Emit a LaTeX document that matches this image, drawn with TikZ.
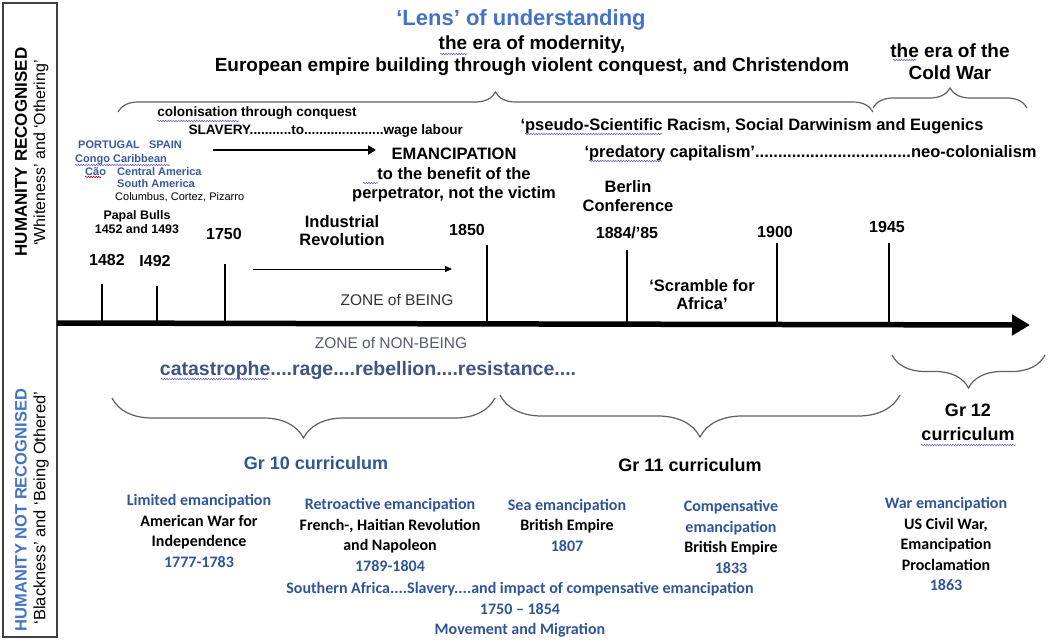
\documentclass[tikz,border=0pt]{standalone}
\usepackage{fontspec}
\setmainfont{Liberation Sans}
\newfontfamily\calib{Carlito}
\usepackage{tikz}
\usetikzlibrary{arrows.meta,decorations.pathreplacing,decorations.pathmorphing,positioning}
\definecolor{lensblue}{RGB}{68,114,196}
\definecolor{deepblue}{RGB}{47,85,151}
\definecolor{iberblue}{RGB}{58,88,158}
\definecolor{slateblue}{RGB}{62,84,130}
\definecolor{zonegray}{RGB}{84,92,110}
\definecolor{bracegray}{RGB}{95,95,95}
\definecolor{spellblue}{RGB}{110,100,220}

\begin{document}
\begin{tikzpicture}[x=1pt,y=-1pt,
	lens/.style={font=\fontsize{22}{26}\selectfont\bfseries,text=lensblue},
	era/.style={font=\fontsize{19}{22}\selectfont\bfseries,align=center},
	lab/.style={font=\fontsize{16.5}{19}\selectfont\bfseries,align=center},
	yr/.style={font=\fontsize{16}{19}\selectfont\bfseries},
	mid/.style={font=\fontsize{13.6}{16}\selectfont\bfseries},
	iber/.style={font=\fontsize{11}{13}\selectfont\bfseries,text=iberblue,anchor=west,inner sep=0pt},
	zone/.style={font=\fontsize{15.5}{18}\selectfont},
	gr/.style={font=\fontsize{18}{24}\selectfont\bfseries,align=center},
	cal/.style={font=\calib\fontsize{16}{20.5}\selectfont\bfseries,align=center},
	brc/.style={decorate,decoration={brace,amplitude=#1},draw=bracegray,line width=1.2pt},
	tick/.style={line width=2.6pt},
	spell/.style={decorate,decoration={snake,amplitude=.7pt,segment length=2.6pt},draw=#1,line width=.6pt},
	spell/.default=spellblue,
	side/.style={rotate=90,align=center}]
	\useasboundingbox (0,0) rectangle (1052,641);
	
	% side panel
	\draw[line width=1.1pt,black!75] (3,3) rectangle (57,637);
	\node[side,font=\fontsize{17}{20}\selectfont\bfseries] (hr) at (21,152) {HUMANITY RECOGNISED};
	\node[side,font=\fontsize{16}{18}\selectfont] (wo) at (41,153) {‘Whiteness’ and ‘Othering’};
	\node[side,font=\fontsize{16.5}{18}\selectfont\bfseries,text=lensblue] (hnr) at (21,510) {HUMANITY NOT RECOGNISED};
	\node[side,font=\fontsize{16.5}{18}\selectfont] (bo) at (41,508) {‘Blackness’ and ‘Being Othered’};
	
	% lens
	\node[lens] (title) at (521,20) {‘Lens’ of understanding};
	\node[era] (modern) at (532,56) {the era of modernity,\\European empire building through violent conquest, and Christendom};
	\node[era] (cold) at (950,62) {the era of the\\Cold War};
	\draw[brc=20pt] (118,112) -- (873,112);
	\draw[brc=20pt] (873,108) -- (1027,108);
	
	% conquest and slavery
	\node[mid] (colon) at (257,113) {colonisation through conquest};
	\node[mid,anchor=west] (slave) at (185,131) {SLAVERY...........to.....................wage labour};
	\coordinate (sl1) at (213,150);
	\coordinate (sl2) at (376,150);
	\draw[line width=2.4pt,-{Triangle[length=8pt,width=9pt]}] (sl1) -- (sl2);
	\node[iber] (pg) at (78,145) {PORTUGAL\ \ \ SPAIN};
	\node[iber] (congo) at (75,160) {Congo Caribbean};
	\node[iber] (cao) at (85,172) {Cão};
	\node[iber] (cam) at (117,172) {Central America};
	\node[iber] (sam) at (117,184) {South America};
	\node[font=\fontsize{11}{13}\selectfont,anchor=west,inner sep=0pt] (cc) at (115,197) {Columbus, Cortez, Pizarro};
	\node[font=\fontsize{12.4}{14}\selectfont\bfseries,align=center] (bulls) at (137,222) {Papal Bulls\\1452 and 1493};
	
	\node[lab,font=\fontsize{16.5}{19.5}\selectfont\bfseries] (eman) at (454,175) {EMANCIPATION\\to the benefit of the\\perpetrator, not the victim};
	\node[lab,font=\fontsize{16.5}{18.5}\selectfont\bfseries] (berlin) at (628,196) {Berlin\\Conference};
	\node[lab,anchor=west] (pseudo) at (517,126) {‘pseudo-Scientific Racism, Social Darwinism and Eugenics};
	\node[lab,anchor=west] (pred) at (581,153) {‘predatory capitalism’..................................neo-colonialism};
	\node[lab,font=\fontsize{16.5}{18}\selectfont\bfseries] (indus) at (342,231) {Industrial\\Revolution};
	\coordinate (ir1) at (253,269);
	\coordinate (ir2) at (452,269);
	\draw[line width=1pt,-{Triangle[length=7pt,width=6pt]}] (ir1) -- (ir2);
	\node[zone,text=black!80] (being) at (397,300) {ZONE of BEING};
	\node[lab,font=\fontsize{16.5}{18}\selectfont\bfseries] (scramble) at (702,295) {‘Scramble for\\Africa’};
	
	% spelling marks
	\draw[spell] (157,121) -- (239,121);
	\draw[spell] (75,165) -- (170,165);
	\draw[spell=red!75!black] (85,177) -- (101,177);
	\draw[spell] (363,183) -- (378,183);
	\draw[spell] (440,54) -- (467,54);
	\draw[spell] (893,60) -- (916,60);
	\draw[spell] (525,134) -- (662,134);
	\draw[spell] (589,161) -- (662,161);
	\draw[spell] (161,379) -- (268,379);
	\draw[spell] (921,445) -- (1016,445);
	
	% time line
	\coordinate (ax1) at (57,323);
	\coordinate (ax2) at (1030,325);
	\draw[line width=5.5pt,-{Triangle[length=18pt,width=20pt]}] (ax1) -- (ax2);
	\foreach \x/\t in {102/284,157/286,225/264,487/245,627/250,777/243,889/243}
	\draw[tick] (\x,324) -- (\x,\t);
	\foreach \x/\y/\lab in {107/260/1482,155/261/I492,224/234/1750,467/230/1850,627/233/{1884/’85},775/232/1900,887/227/1945}
	\node[yr] at (\x,\y) {\lab};
	
	% below the line
	\node[zone,text=zonegray] (nonbeing) at (391,343) {ZONE of NON-BEING};
	\node[font=\fontsize{19.5}{22}\selectfont\bfseries,text=slateblue] (rage) at (368,370) {catastrophe....rage....rebellion....resistance....};
	\draw[brc=40pt] (495,398) -- (112,398);
	\draw[brc=42pt] (900,395) -- (500,395);
	\draw[brc=33pt] (1045,355) -- (892,355);
	\node[gr,text=deepblue] (gr10) at (316,463) {Gr 10 curriculum};
	\node[gr] (gr11) at (690,465) {Gr 11 curriculum};
	\node[gr] (gr12) at (968,422) {Gr 12\\curriculum};
	
	% kinds of emancipation
	\node[cal] (limited) at (199,531) {\textcolor{deepblue}{Limited emancipation}\\American War for\\Independence\\\textcolor{deepblue}{1777-1783}};
	\node[cal] (retro) at (390,535) {\textcolor{deepblue}{Retroactive emancipation}\\French-, Haitian Revolution\\and Napoleon\\\textcolor{deepblue}{1789-1804}};
	\node[cal] (sea) at (567,525) {\textcolor{deepblue}{Sea emancipation}\\British Empire\\\textcolor{deepblue}{1807}};
	\node[cal] (comp) at (731,537) {\textcolor{deepblue}{Compensative}\\\textcolor{deepblue}{emancipation}\\British Empire\\\textcolor{deepblue}{1833}};
	\node[cal] (war) at (946,544) {\textcolor{deepblue}{War emancipation}\\US Civil War,\\Emancipation\\Proclamation\\\textcolor{deepblue}{1863}};
	\node[cal,text=deepblue] (south) at (520,610) {Southern Africa....Slavery....and impact of compensative emancipation\\1750 – 1854\\Movement and Migration};
\end{tikzpicture}
\end{document}
